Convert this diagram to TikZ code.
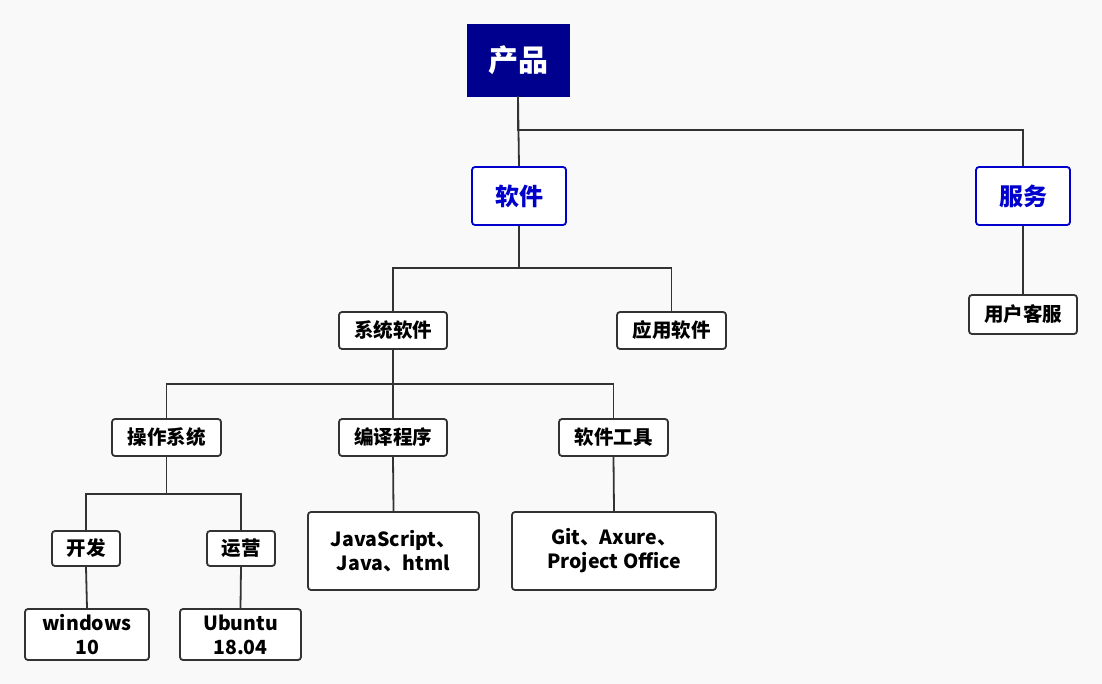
\documentclass[tikz,border=0pt]{standalone}
\usepackage{fontspec}
\setmainfont{Noto Sans CJK SC}
\definecolor{bg}{HTML}{F9F9F9}
\definecolor{navy}{HTML}{00008F}
\definecolor{topblue}{HTML}{0000CC}
\definecolor{ln}{HTML}{333333}
\tikzset{
  root/.style={fill=navy, draw=navy, text=white, font=\bfseries\fontsize{30}{32}\selectfont, inner sep=0pt},
  lvlone/.style={draw=topblue, line width=1.8pt, rounded corners=3pt, fill=white, text=topblue, font=\bfseries\fontsize{24}{28}\selectfont, inner sep=0pt},
  leaf/.style={draw=ln, line width=1.8pt, rounded corners=3pt, fill=white, text=black, font=\bfseries\fontsize{19.5}{24}\selectfont, inner sep=0pt, align=center},
  conn/.style={draw=ln, line width=1.8pt},
}
\begin{document}
\begin{tikzpicture}[x=1pt,y=-1pt]
\fill[bg] (0,0) rectangle (1102,684);
\useasboundingbox (0,0) rectangle (1102,684);
% nodes
\node[root, minimum width=102pt, minimum height=72pt] (prod) at (518,60) {产品};
\node[lvlone, minimum width=94pt, minimum height=58pt] (soft) at (519,196) {软件};
\node[lvlone, minimum width=94pt, minimum height=58pt] (serv) at (1023,196) {服务};
\node[leaf, minimum width=108pt, minimum height=37pt] (sys) at (393,330.5) {系统软件};
\node[leaf, minimum width=109pt, minimum height=37pt] (app) at (671.5,330.5) {应用软件};
\node[leaf, minimum width=108pt, minimum height=39pt] (cs) at (1023,314.5) {用户客服};
\node[leaf, minimum width=109pt, minimum height=37pt] (os) at (166.5,437.5) {操作系统};
\node[leaf, minimum width=108pt, minimum height=37pt] (comp) at (393,437.5) {编译程序};
\node[leaf, minimum width=109pt, minimum height=37pt] (tool) at (613.5,437.5) {软件工具};
\node[leaf, minimum width=68pt, minimum height=35pt] (dev) at (86,548.5) {开发};
\node[leaf, minimum width=68pt, minimum height=35pt] (ops) at (241,548.5) {运营};
\node[leaf, minimum width=171pt, minimum height=78pt] (js) at (393.5,551) {JavaScript、\\Java、html};
\node[leaf, minimum width=204pt, minimum height=78pt] (git) at (614,551) {Git、Axure、\\Project Office};
\node[leaf, minimum width=124pt, minimum height=51pt] (win) at (87,634.5) {windows\\10};
\node[leaf, minimum width=121pt, minimum height=51pt] (ubu) at (240.5,634.5) {Ubuntu\\18.04};
% connectors
\draw[conn] (prod.south) |- ++(0,34) coordinate (b1) -| (serv.north);
\draw[conn] (prod.south) -- (soft.north);
\draw[conn] (soft.south) -- ++(0,42) coordinate (b2);
\draw[conn] (b2) -| (sys.north);
\draw[conn] (b2) -| (app.north);
\draw[conn] (serv.south) -- (cs.north);
\draw[conn] (sys.south) -- ++(0,34) coordinate (b3);
\draw[conn] (b3) -| (os.north);
\draw[conn] (b3) -| (tool.north);
\draw[conn] (b3) -- (comp.north);
\draw[conn] (os.south) -- ++(0,37) coordinate (b4);
\draw[conn] (b4) -| (dev.north);
\draw[conn] (b4) -| (ops.north);
\draw[conn] (comp.south) -- (js.north);
\draw[conn] (tool.south) -- (git.north);
\draw[conn] (dev.south) -- (win.north);
\draw[conn] (ops.south) -- (ubu.north);
\end{tikzpicture}
\end{document}
